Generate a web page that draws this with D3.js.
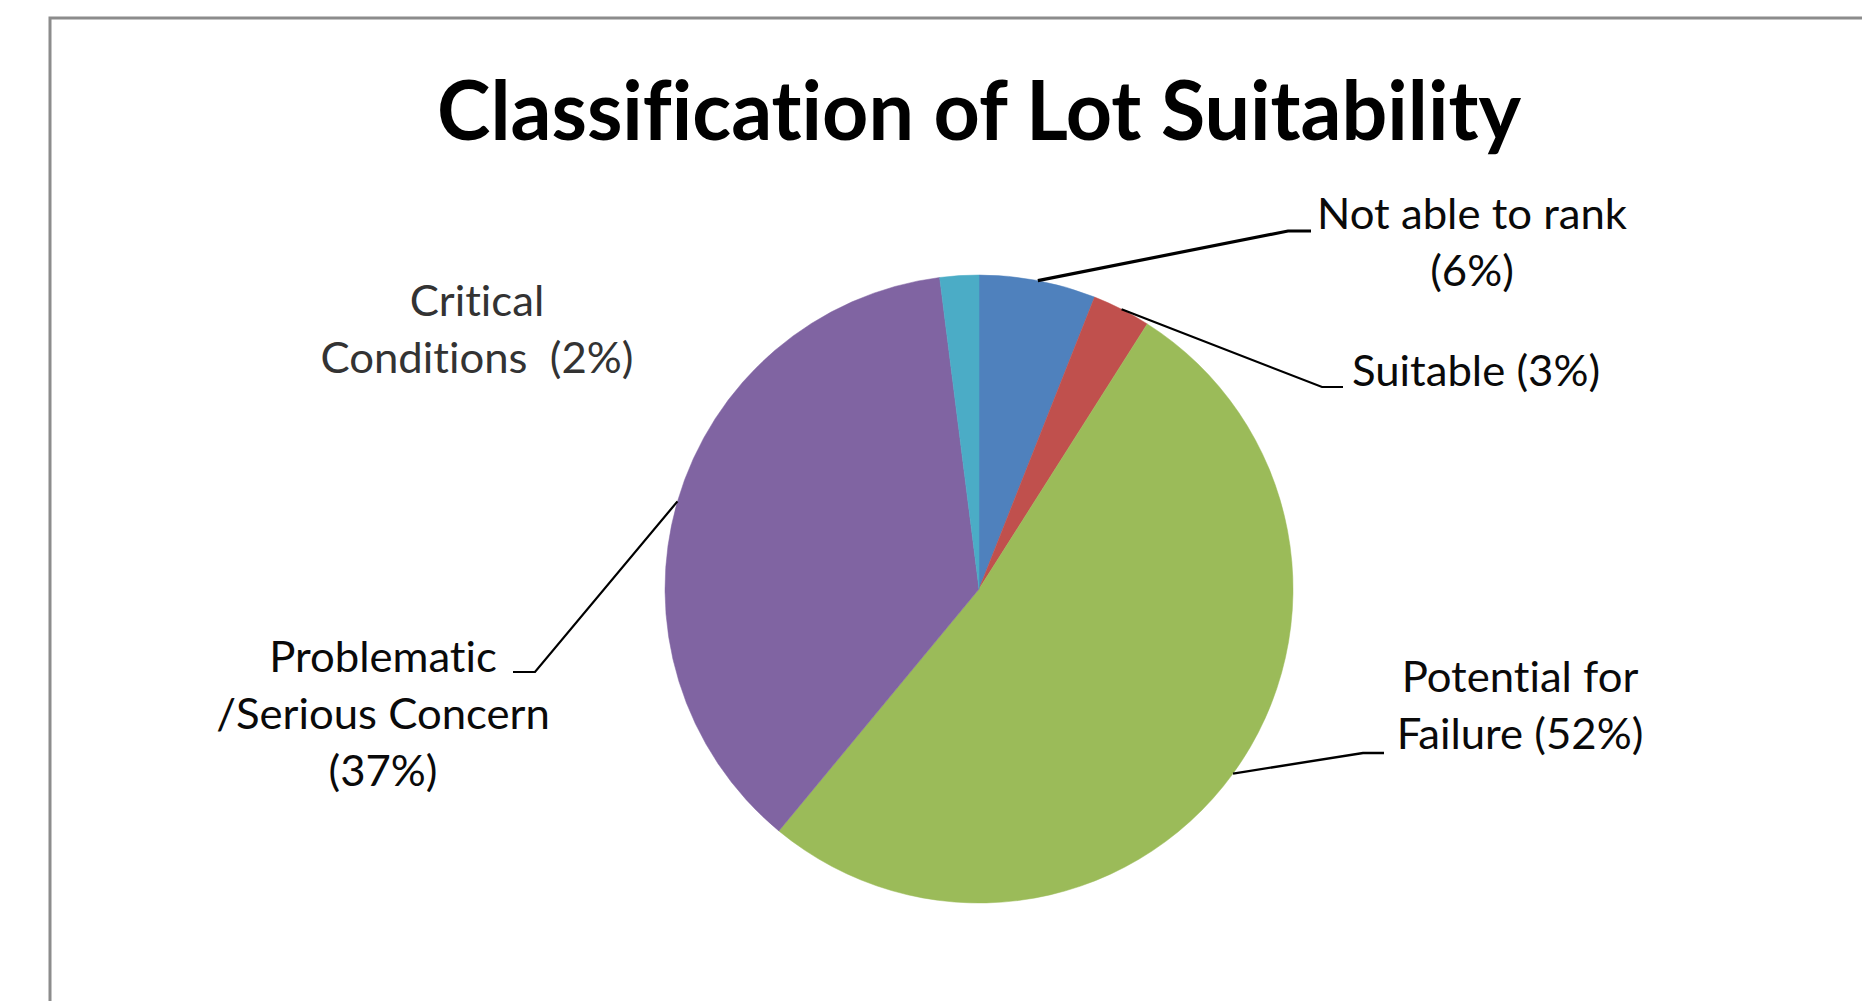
<!DOCTYPE html>
<html>
<head>
<meta charset="utf-8">
<script src="https://cdn.jsdelivr.net/npm/d3@7"></script>
<style>
  html, body { margin: 0; padding: 0; background: #fff; }
  svg { display: block; }
  svg text { font-variant-ligatures: none; font-feature-settings: "liga" 0, "clig" 0; white-space: pre; }
</style>
</head>
<body>
<script>
// Lot suitability classes, clockwise from 12 o'clock
const categories = ["Not able to rank", "Suitable", "Potential for Failure", "Problematic /Serious Concern", "Critical Conditions"];
const values = [6, 3, 52, 37, 2];
const colors = ["#4f81bd", "#c0504d", "#9bbb59", "#8064a2", "#4bacc6"];
// Label text split into lines; {p} is replaced by the slice percentage
const labelLines = [
  ["Not able to rank", "{p}"],
  ["Suitable {p}"],
  ["Potential for", "Failure {p}"],
  ["Problematic", "/Serious Concern", "{p}"],
  ["Critical", "Conditions  {p}"]
];
const title = "Classification of Lot Suitability";

const W = 1862, H = 1001;
const cx = 979, cy = 589, R = 314;
const lineGap = 57;

// label placement: centre x, first baseline y, optional leader elbow/end
const labelPos = [
  { x: 1472, y: 229, elbow: [1288, 231], end: [1311, 231], sw: 3.2 },
  { x: 1476, y: 386, elbow: [1322, 387], end: [1343, 387], sw: 2.2 },
  { x: 1520, y: 692, elbow: [1363, 753], end: [1384, 753], sw: 2.4 },
  { x: 383,  y: 672, elbow: [535, 672],  end: [513, 672],  sw: 2.2 },
  { x: 477,  y: 316, elbow: null, end: null, fill: "#333" }
];

const svg = d3.select("body").append("svg")
  .attr("width", W).attr("height", H);

svg.append("rect").attr("width", W).attr("height", H).attr("fill", "#fff");

// chart area frame
svg.append("path")
  .attr("d", `M50,${H + 5} V18 H${W + 5}`)
  .attr("fill", "none")
  .attr("stroke", "#8c8c8c")
  .attr("stroke-width", 3);

// title
svg.append("text")
  .attr("x", cx).attr("y", 140)
  .attr("text-anchor", "middle")
  .attr("font-family", "Lato, 'Open Sans', sans-serif")
  .attr("font-weight", 700)
  .attr("font-size", 83)
  .attr("fill", "#000")
  .attr("textLength", 1084)
  .attr("lengthAdjust", "spacingAndGlyphs")
  .text(title);

// pie
const pie = d3.pie().sort(null).value(d => d);
const arcs = pie(values);
const arc = d3.arc().innerRadius(0).outerRadius(R);

const g = svg.append("g").attr("transform", `translate(${cx},${cy})`);
g.selectAll("path.slice")
  .data(arcs)
  .join("path")
  .attr("class", "slice")
  .attr("d", arc)
  .attr("fill", (d, i) => colors[i])
  .attr("stroke", (d, i) => colors[i])
  .attr("stroke-width", 0.5);

// leader lines from each slice's outer midpoint
arcs.forEach((d, i) => {
  const p = labelPos[i];
  if (!p.elbow) return;
  const a = (d.startAngle + d.endAngle) / 2;
  const sx = cx + R * Math.sin(a), sy = cy - R * Math.cos(a);
  svg.append("path")
    .attr("d", `M${sx},${sy} L${p.elbow[0]},${p.elbow[1]} L${p.end[0]},${p.end[1]}`)
    .attr("fill", "none")
    .attr("stroke", "#000")
    .attr("stroke-width", p.sw);
});

// data labels
const labelFont = "Lato, 'Open Sans', sans-serif";
const labelSize = 43;
const labels = svg.append("g");
arcs.forEach((d, i) => {
  const p = labelPos[i];
  const pct = `(${values[i]}%)`;
  const lg = labels.append("g").attr("transform", `translate(${p.x},${p.y})`);
  const t = lg.append("text")
    .attr("text-anchor", "middle")
    .attr("font-family", labelFont)
    .attr("font-size", labelSize)
    .attr("fill", p.fill || "#0a0a0a");
  labelLines[i].forEach((ln, j) => {
    t.append("tspan")
      .attr("x", 0)
      .attr("y", j * lineGap)
      .text(ln.replace("{p}", pct));
  });
});

// narrow the label glyphs to the chart's condensed face
const probe = svg.append("text")
  .attr("font-family", labelFont).attr("font-size", labelSize)
  .style("font-variant-ligatures", "none")
  .text("Not able to rank");
const scaleX = 310 / probe.node().getComputedTextLength();
probe.remove();
labels.selectAll("text").attr("transform", `scale(${scaleX},1)`);
</script>
</body>
</html>
